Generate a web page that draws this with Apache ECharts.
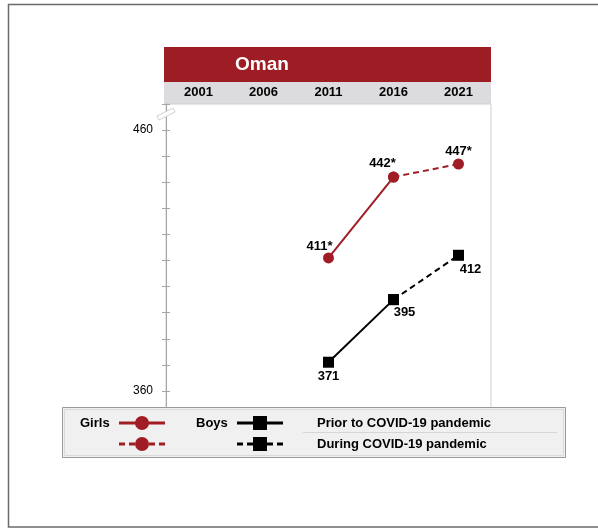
<!DOCTYPE html>
<html>
<head>
<meta charset="utf-8">
<script src="https://cdn.jsdelivr.net/npm/echarts@6/dist/echarts.min.js"></script>
<style>
  html, body { margin: 0; padding: 0; background: #fff; }
  #chart { width: 598px; height: 529px; }
</style>
</head>
<body>
<div id="chart"></div>
<script>
// 数据
const years = ['2001', '2006', '2011', '2016', '2021']
const girls = [null, null, 411, 442, 447]
const boys = [null, null, 371, 395, 412]
const girlsLabels = ['', '', '411*', '442*', '447*']
const boysLabels = ['', '', '371', '395', '412']
const yTickLabels = [360, 460]
const lastPriorIndex = 3 // 2016 为疫情前最后一次

const RED = '#a11d25'
const BLACK = '#000'
const FONT = 'Liberation Sans, Arial, sans-serif'

const girlsLabelOffset = [null, null, [-9, 6], [-11, 3], [0, 4]]
const boysLabelOffset = [null, null, [0, -3], [11, -4], [12, -3]]

// 疫情前 / 疫情期间 分段, 标签只放在一段里
function buildPart (arr, labels, offsets, pos, during) {
  return arr.map((v, i) => {
    const inPart = during ? i >= lastPriorIndex : i <= lastPriorIndex
    if (v === null || !inPart) return null
    const withLabel = during ? i > lastPriorIndex : true
    return {
      value: v,
      label: {
        show: withLabel,
        position: pos,
        offset: offsets[i],
        formatter: labels[i],
        color: '#000',
        fontWeight: 'bold',
        fontSize: 13,
        fontFamily: FONT
      }
    }
  })
}

const chart = echarts.init(document.getElementById('chart'))

const legendText = {
  fill: '#000',
  font: 'bold 13px ' + FONT,
  verticalAlign: 'middle'
}

const option = {
  animation: false,
  grid: {
    left: 166,
    right: 107,
    top: 104,
    bottom: 112,
    show: true,
    borderColor: '#cfcfcf',
    borderWidth: 1
  },
  xAxis: {
    type: 'category',
    position: 'top',
    data: years,
    boundaryGap: true,
    axisLine: { show: false },
    axisTick: { show: false },
    splitLine: { show: false },
    axisLabel: {
      color: '#000',
      fontWeight: 'bold',
      fontSize: 13,
      fontFamily: FONT,
      margin: 5
    }
  },
  yAxis: [{
    type: 'value',
    min: 350,
    max: 470,
    interval: 10,
    axisLine: { show: true, lineStyle: { color: '#a6a6a6', width: 1 } },
    axisTick: { show: false },
    splitLine: { show: false },
    axisLabel: {
      color: '#000',
      fontSize: 12,
      fontFamily: FONT,
      margin: 13,
      formatter: v => (yTickLabels.includes(v) ? String(v) : '')
    }
  }, {
    // 跨轴刻度
    type: 'value',
    position: 'left',
    offset: -4,
    min: 350,
    max: 470,
    interval: 10,
    axisLine: { show: false },
    axisTick: { show: true, length: 8, lineStyle: { color: '#a6a6a6' } },
    splitLine: { show: false },
    axisLabel: { show: false }
  }],
  series: [
    {
      name: 'Girls',
      type: 'line',
      data: buildPart(girls, girlsLabels, girlsLabelOffset, 'top', false),
      symbol: 'circle',
      symbolSize: 11,
      itemStyle: { color: RED },
      lineStyle: { color: RED, width: 2 },
      z: 3
    },
    {
      name: 'Girls during',
      type: 'line',
      data: buildPart(girls, girlsLabels, girlsLabelOffset, 'top', true),
      symbol: 'circle',
      symbolSize: 11,
      itemStyle: { color: RED },
      lineStyle: { color: RED, width: 2, type: [6, 4] },
      z: 2
    },
    {
      name: 'Boys',
      type: 'line',
      data: buildPart(boys, boysLabels, boysLabelOffset, 'bottom', false),
      symbol: 'rect',
      symbolSize: 11,
      itemStyle: { color: BLACK },
      lineStyle: { color: BLACK, width: 2 },
      z: 3
    },
    {
      name: 'Boys during',
      type: 'line',
      data: buildPart(boys, boysLabels, boysLabelOffset, 'bottom', true),
      symbol: 'rect',
      symbolSize: 11,
      itemStyle: { color: BLACK },
      lineStyle: { color: BLACK, width: 2, type: [6, 4] },
      z: 2
    }
  ],
  graphic: [
    // 外框
    {
      type: 'polyline', z: 100,
      shape: { points: [[620, 4.5], [8.5, 4.5], [8.5, 527], [620, 527]] },
      style: { stroke: '#6b6b6b', lineWidth: 1.5, fill: null }
    },
    // 标题栏
    {
      type: 'rect', z: -1,
      shape: { x: 164, y: 47, width: 327, height: 35 },
      style: { fill: '#9e1c24' }
    },
    {
      type: 'rect', z: -1,
      shape: { x: 164, y: 82, width: 327, height: 22 },
      style: { fill: '#dcdcde' }
    },
    {
      type: 'text', z: 100, x: 262, y: 65,
      style: { text: 'Oman', fill: '#fff', font: 'bold 19px ' + FONT, align: 'center', verticalAlign: 'middle' }
    },
    // 轴断开符号
    {
      type: 'polygon', z: 100,
      shape: { points: [[157, 116], [173, 108], [175, 112], [159, 120]] },
      style: { fill: '#fff', stroke: '#d0d0d0', lineWidth: 1 }
    },
    // 图例
    {
      type: 'rect', z: 100,
      shape: { x: 62.5, y: 407.5, width: 503, height: 50 },
      style: { fill: '#f0f0f0', stroke: '#9a9a9a', lineWidth: 1 }
    },
    {
      type: 'rect', z: 100,
      shape: { x: 64.5, y: 409.5, width: 499, height: 46 },
      style: { fill: null, stroke: '#dadada', lineWidth: 1 }
    },
    {
      type: 'line', z: 101,
      shape: { x1: 303, y1: 432.5, x2: 557, y2: 432.5 },
      style: { stroke: '#d6d6d6', lineWidth: 1 }
    },
    { type: 'text', z: 101, x: 80, y: 423, style: Object.assign({ text: 'Girls' }, legendText) },
    { type: 'text', z: 101, x: 196, y: 423, style: Object.assign({ text: 'Boys' }, legendText) },
    { type: 'text', z: 101, x: 317, y: 423, style: Object.assign({ text: 'Prior to COVID-19 pandemic' }, legendText) },
    { type: 'text', z: 101, x: 317, y: 444, style: Object.assign({ text: 'During COVID-19 pandemic' }, legendText) },
    {
      type: 'line', z: 101,
      shape: { x1: 119, y1: 423, x2: 165, y2: 423 },
      style: { stroke: RED, lineWidth: 3 }
    },
    {
      type: 'circle', z: 102,
      shape: { cx: 142, cy: 423, r: 7 },
      style: { fill: RED }
    },
    {
      type: 'line', z: 101,
      shape: { x1: 119, y1: 444, x2: 165, y2: 444 },
      style: { stroke: RED, lineWidth: 3, lineDash: [6, 4] }
    },
    {
      type: 'circle', z: 102,
      shape: { cx: 142, cy: 444, r: 7 },
      style: { fill: RED }
    },
    {
      type: 'line', z: 101,
      shape: { x1: 237, y1: 423, x2: 283, y2: 423 },
      style: { stroke: BLACK, lineWidth: 3 }
    },
    {
      type: 'rect', z: 102,
      shape: { x: 253, y: 416, width: 14, height: 14 },
      style: { fill: BLACK }
    },
    {
      type: 'line', z: 101,
      shape: { x1: 237, y1: 444, x2: 283, y2: 444 },
      style: { stroke: BLACK, lineWidth: 3, lineDash: [6, 4] }
    },
    {
      type: 'rect', z: 102,
      shape: { x: 253, y: 437, width: 14, height: 14 },
      style: { fill: BLACK }
    }
  ]
}

chart.setOption(option)
</script>
</body>
</html>
